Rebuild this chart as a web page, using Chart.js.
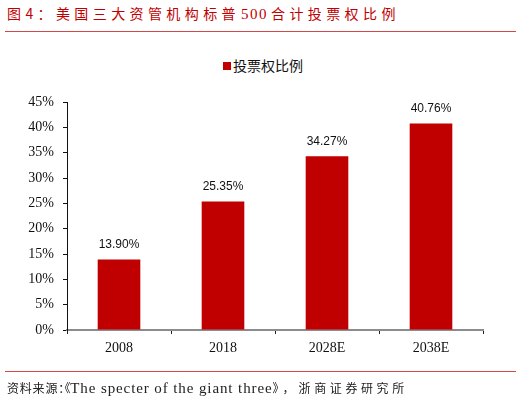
<!DOCTYPE html>
<html>
<head>
<meta charset="utf-8">
<script src="https://cdn.jsdelivr.net/npm/chart.js@4"></script>
<style>
    body { margin: 0; background: #fff; }
    .page { position: relative; width: 521px; height: 404px; overflow: hidden; }
    .title {
        position: absolute; left: 7px; top: 3px;
        font: 14px "Noto Sans CJK SC", sans-serif; color: #C00000;
        letter-spacing: 4.4px; white-space: nowrap; line-height: 20px;
    }
    .title .num { font-family: "Liberation Serif", serif; font-size: 15px; letter-spacing: 1.5px; margin-left: 1px; margin-right: 3px; }
    .rule { position: absolute; left: 5px; width: 511px; height: 1px; background: #D04848; }
    .legend {
        position: absolute; left: 223px; top: 56px;
        font: 14px "Noto Sans CJK SC", sans-serif; color: #111; line-height: 18px;
    }
    .legend i { display: inline-block; width: 8px; height: 8px; background: #C00000; margin-right: 2px; vertical-align: 1px; }
    .source {
        position: absolute; left: 7px; top: 379px;
        font: 12px "Noto Sans CJK SC", sans-serif; color: #222; white-space: nowrap; line-height: 18px;
    }
    .source .lead { letter-spacing: 0.8px; }
    .source .punct { font-feature-settings: "palt"; }
    .source .close { letter-spacing: 4px; }
    .source .tail { letter-spacing: 3.6px; }
    .source .en { font-family: "Liberation Serif", serif; font-size: 15px; letter-spacing: 0.9px; }
    #chartBox { position: absolute; left: 0; top: 0; width: 521px; height: 404px; }
</style>
</head>
<body>
<div class="page">
    <div class="title">图4：美国三大资管机构标普<span class="num">500</span>合计投票权比例</div>
    <div class="rule" style="top:31px"></div>
    <div class="legend"><i></i>投票权比例</div>
    <div id="chartBox"><canvas id="voteChart"></canvas></div>
    <div class="rule" style="top:371px"></div>
    <div class="source"><span class="lead">资料来源</span><span class="punct">：《</span><span class="en">The specter of the giant three</span><span class="close">》，</span><span class="tail">浙商证券研究所</span></div>
</div>
<script>
const years = ['2008', '2018', '2028E', '2038E'];
const voteShare = [13.90, 25.35, 34.27, 40.76];
const yTicks = [0, 5, 10, 15, 20, 25, 30, 35, 40, 45];

// value labels above the bars
const barLabels = {
    id: 'barLabels',
    afterDatasetsDraw(chart) {
        const ctx = chart.ctx;
        const meta = chart.getDatasetMeta(0);
        ctx.save();
        ctx.font = '12px "Liberation Sans", Arial, sans-serif';
        ctx.fillStyle = '#111';
        ctx.textAlign = 'center';
        ctx.textBaseline = 'bottom';
        meta.data.forEach((bar, i) => {
            ctx.fillText(voteShare[i].toFixed(2) + '%', bar.x, bar.y - 9);
        });
        ctx.restore();
    }
};

function initChart() {
    const ctx = document.getElementById('voteChart').getContext('2d');
    new Chart(ctx, {
        type: 'bar',
        data: {
            labels: years,
            datasets: [{
                label: '投票权比例',
                data: voteShare,
                backgroundColor: '#C00000',
                borderWidth: 0,
                categoryPercentage: 1,
                barPercentage: 0.41
            }]
        },
        options: {
            responsive: true,
            maintainAspectRatio: false,
            animation: false,
            layout: { padding: { top: 102, right: 38, bottom: 34, left: 0 } },
            plugins: {
                legend: { display: false },
                tooltip: { enabled: false }
            },
            scales: {
                x: {
                    afterFit: s => { s.height = 40; },
                    grid: {
                        offset: true,
                        drawOnChartArea: false,
                        tickLength: 4,
                        color: '#222'
                    },
                    border: { color: '#8c8c8c', width: 2 },
                    ticks: {
                        padding: 6,
                        color: '#111',
                        font: { family: '"Liberation Serif", serif', size: 14 }
                    }
                },
                y: {
                    min: 0,
                    max: 45,
                    afterFit: s => { s.width = 67; },
                    afterBuildTicks: s => { s.ticks = yTicks.map(v => ({ value: v })); },
                    grid: {
                        drawOnChartArea: false,
                        tickLength: 4,
                        color: '#111'
                    },
                    border: { color: '#111', width: 1 },
                    ticks: {
                        padding: 9,
                        color: '#111',
                        font: { family: '"Liberation Serif", serif', size: 14 },
                        callback: v => v + '%'
                    }
                }
            }
        },
        plugins: [barLabels]
    });
}

document.addEventListener('DOMContentLoaded', initChart);
</script>
</body>
</html>
